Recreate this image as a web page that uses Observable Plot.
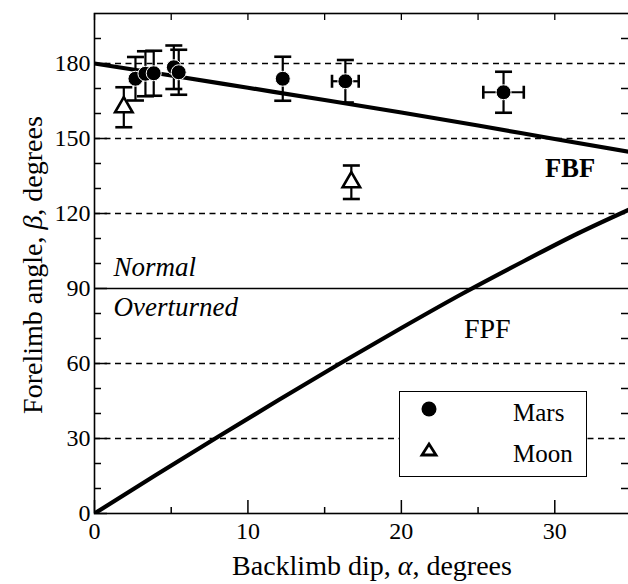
<!DOCTYPE html>
<html><head><meta charset="utf-8">
<script src="https://cdn.jsdelivr.net/npm/d3@7"></script>
<script src="https://cdn.jsdelivr.net/npm/@observablehq/plot@0.6"></script>
<style>
html,body{margin:0;padding:0;background:#fff;overflow:hidden}
#wrap{position:relative;width:628px;height:584px;overflow:hidden}
#wrap svg{overflow:hidden;display:block}
#legend{position:absolute;left:399px;top:391px;width:188px;height:86px;border:1.4px solid #000;box-sizing:border-box;background:#fff;font-family:"Liberation Serif",serif;font-size:25px;line-height:29px}
#legend svg{position:absolute;left:0;top:0}
#legend span{position:absolute;left:113px}
</style></head><body><div id="wrap"></div>
<script>
// Data
const marsAlpha    = [2.67, 3.32, 3.86, 5.17, 5.49, 12.27, 16.35, 26.66];
const marsBeta     = [173.9, 175.9, 176.1, 178.5, 176.5, 173.9, 172.9, 168.5];
const marsBetaErr  = [8.7, 9.0, 9.0, 8.7, 9.0, 8.8, 8.5, 8.2];
const marsAlphaErr = [0, 0, 0, 0, 0, 0, 0.87, 1.32];
const moonAlpha    = [1.91, 16.74];
const moonBeta     = [162.5, 132.5];
const moonBetaErr  = [8.0, 6.7];
const fbfAlpha = [0, 5, 10, 15, 20, 25, 30, 35];
const fbfBeta  = [180, 175.2, 170.3, 165.4, 160.4, 155.2, 149.8, 144.5];
const fpfAlpha = [0, 4, 8, 12, 16, 20, 24, 28, 31.5, 35];
const fpfBeta  = [0, 15.4, 30.5, 45.4, 60, 74.2, 88, 101, 112, 122];
const xTickLabels = [0, 10, 20, 30];
const xMinorTicks = [5, 15, 25];
const yTickLabels = [0, 30, 60, 90, 120, 150, 180];
const yMinorTicks = [10, 20, 40, 50, 70, 80, 100, 110, 130, 140, 160, 170, 190];
const dashedLevels = [30, 60, 120, 150, 180];
const solidLevels = [90];
const annotations = [
  {text: "FBF", x: 31.0, y: 137.8, weight: "bold", style: "normal", anchor: "middle", size: 26.5},
  {text: "FPF", x: 25.6, y: 73.6, weight: "normal", style: "normal", anchor: "middle", size: 28},
  {text: "Normal", x: 1.24, y: 98.6, weight: "normal", style: "italic", anchor: "start", size: 27},
  {text: "Overturned", x: 1.24, y: 82.6, weight: "normal", style: "italic", anchor: "start", size: 27}
];

const mars = marsAlpha.map((a, i) => ({a, b: marsBeta[i], eb: marsBetaErr[i], ea: marsAlphaErr[i]}));
const moon = moonAlpha.map((a, i) => ({a, b: moonBeta[i], eb: moonBetaErr[i], ea: 0}));
const all = mars.concat(moon);
const xerr = all.filter(d => d.ea > 0);
const fbf = fbfAlpha.map((a, i) => ({a, b: fbfBeta[i]}));
const fpf = fpfAlpha.map((a, i) => ({a, b: fpfBeta[i]}));

const W = 628, H = 584, mL = 94, mR = -3, mT = 13, mB = 71;
const plotW = W - mL - mR, plotH = H - mT - mB;

const capH = {draw(ctx, size) { const r = Math.sqrt(size / Math.PI); ctx.moveTo(-r, 0); ctx.lineTo(r, 0); }};
const capV = {draw(ctx, size) { const r = Math.sqrt(size / Math.PI); ctx.moveTo(0, -r); ctx.lineTo(0, r); }};

const chart = Plot.plot({
  width: W, height: H,
  marginLeft: mL, marginRight: mR, marginTop: mT, marginBottom: mB,
  style: {fontFamily: "'Liberation Serif', serif", fontSize: "24px", background: "#fff", color: "#000"},
  x: {domain: [0, 35]},
  y: {domain: [0, 200]},
  marks: [
    Plot.ruleY(dashedLevels, {stroke: "#000", strokeWidth: 1.3, strokeDasharray: "6,4.5"}),
    Plot.ruleY(solidLevels, {stroke: "#000", strokeWidth: 1.3}),
    Plot.frame({stroke: "#000", strokeWidth: 1.6}),
    Plot.tickX(xTickLabels, {x: d => d, insetTop: plotH - 13, strokeWidth: 1.5}),
    Plot.tickX(xMinorTicks, {x: d => d, insetTop: plotH - 6, strokeWidth: 1.5}),
    Plot.tickX(xTickLabels.concat(xMinorTicks), {x: d => d, insetBottom: plotH - 7, strokeWidth: 1.3}),
    Plot.tickY(yMinorTicks, {y: d => d, insetRight: plotW - 7, strokeWidth: 1.5}),
    Plot.tickY(yTickLabels, {y: d => d, insetRight: plotW - 13, strokeWidth: 1.5}),
    Plot.tickY(yMinorTicks, {y: d => d, insetLeft: plotW - 10, strokeWidth: 1.5}),
    Plot.axisX({ticks: xTickLabels, tickSize: 0, tickPadding: 8, label: null, fontSize: 24, tickFormat: d => String(d)}),
    Plot.axisY({ticks: yTickLabels, tickSize: 0, tickPadding: 4, label: null, fontSize: 24, tickFormat: d => String(d)}),
    Plot.line(fbf, {x: "a", y: "b", stroke: "#000", strokeWidth: 4.2, curve: "monotone-x", clip: true}),
    Plot.line(fpf, {x: "a", y: "b", stroke: "#000", strokeWidth: 4.2, curve: "monotone-x", clip: true}),
    Plot.ruleX(all, {x: "a", y1: d => d.b - d.eb, y2: d => d.b + d.eb, stroke: "#000", strokeWidth: 2.2}),
    Plot.ruleY(xerr, {y: "b", x1: d => d.a - d.ea, x2: d => d.a + d.ea, stroke: "#000", strokeWidth: 2.2}),
    Plot.dot(all, {x: "a", y: d => d.b + d.eb, symbol: capH, r: 8.5, stroke: "#000", strokeWidth: 2.6}),
    Plot.dot(all, {x: "a", y: d => d.b - d.eb, symbol: capH, r: 8.5, stroke: "#000", strokeWidth: 2.6}),
    Plot.dot(xerr, {x: d => d.a - d.ea, y: "b", symbol: capV, r: 6.5, stroke: "#000", strokeWidth: 2.6}),
    Plot.dot(xerr, {x: d => d.a + d.ea, y: "b", symbol: capV, r: 6.5, stroke: "#000", strokeWidth: 2.6}),
    Plot.dot(mars, {x: "a", y: "b", r: 7.5, fill: "#000", stroke: "#fff", strokeWidth: 1}),
    Plot.dot(moon, {x: "a", y: "b", r: 6.5, symbol: "triangle", fill: "#fff", stroke: "#000", strokeWidth: 2.6}),
    ...annotations.map(t => Plot.text([t], {x: "x", y: "y", text: "text", textAnchor: t.anchor, fontSize: t.size, fontWeight: t.weight, fontStyle: t.style, fill: "#000"}))
  ]
});

const svg = d3.select(chart);
// axis titles with italic Greek letters
const xt = svg.append("text").attr("x", 372).attr("y", 575).attr("text-anchor", "middle").attr("font-size", 28).attr("fill", "#000");
xt.append("tspan").text("Backlimb dip, ");
xt.append("tspan").attr("font-style", "italic").text("α");
xt.append("tspan").text(", degrees");
const yt = svg.append("text").attr("transform", "translate(42,265) rotate(-90)").attr("text-anchor", "middle").attr("font-size", 28).attr("fill", "#000");
yt.append("tspan").text("Forelimb angle, ");
yt.append("tspan").attr("font-style", "italic").text("β");
yt.append("tspan").text(", degrees");

const wrap = document.getElementById("wrap");
wrap.appendChild(chart);
// legend
const lg = document.createElement("div");
lg.id = "legend";
lg.innerHTML = '<svg width="188" height="86"><circle cx="29" cy="17" r="7.5" fill="#000"/>' +
  '<path d="M29,52 L36,63 L22,63 Z" fill="#fff" stroke="#000" stroke-width="2.8" stroke-linejoin="miter"/></svg>' +
  '<span style="top:6px">Mars</span><span style="top:47px">Moon</span>';
wrap.appendChild(lg);
</script></body></html>
